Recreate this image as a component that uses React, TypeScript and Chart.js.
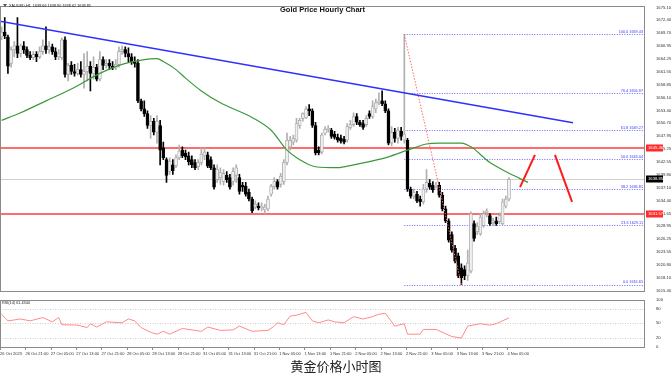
import React, { useEffect, useRef } from 'react';
import { Chart, registerables } from 'chart.js';
Chart.register(...registerables);

// ---------- data ----------
const TICK_LABELS = [
  '26 Oct 2023', '26 Oct 21:00', '27 Oct 05:00', '27 Oct 13:00', '27 Oct 21:00',
  '28 Oct 05:00', '28 Oct 13:00', '28 Oct 21:00', '31 Oct 05:00', '31 Oct 13:00',
  '31 Oct 21:00', '1 Nov 05:00', '1 Nov 13:00', '1 Nov 21:00', '2 Nov 05:00',
  '2 Nov 13:00', '2 Nov 21:00', '3 Nov 05:00', '3 Nov 13:00', '3 Nov 21:00', '4 Nov 05:00',
];
const BARS_PER_TICK = 8;

const OPEN = [
  1668.9, 1669.9, 1668.9, 1663.3, 1666.2, 1667.0, 1665.4, 1667.0, 1666.2, 1665.0,
  1664.5, 1665.2, 1664.7, 1665.8, 1667.0, 1666.2, 1666.8, 1665.8, 1664.7, 1664.5,
  1668.3, 1661.0, 1662.9, 1661.6, 1661.2, 1662.0, 1661.0, 1661.6, 1662.7, 1661.2,
  1662.5, 1660.0, 1664.1, 1662.9, 1663.3, 1662.7, 1662.3, 1663.1, 1665.8, 1666.2,
  1665.4, 1664.7, 1663.7, 1663.3, 1655.4, 1653.7, 1652.7, 1650.2, 1651.1, 1648.8,
  1650.2, 1645.5, 1643.0, 1640.5, 1641.9, 1641.7, 1643.4, 1645.0, 1644.4, 1643.8,
  1643.0, 1642.4, 1641.5, 1642.4, 1643.8, 1644.0, 1643.0, 1641.3, 1638.8, 1639.2,
  1638.4, 1639.7, 1639.2, 1638.4, 1639.7, 1639.2, 1637.6, 1637.4, 1636.1, 1634.7,
  1633.0, 1633.2, 1632.8, 1632.4, 1632.6, 1635.7, 1637.4, 1638.4, 1637.8, 1638.4,
  1642.4, 1645.7, 1646.7, 1647.1, 1650.2, 1651.7, 1651.9, 1653.7, 1653.3, 1650.2,
  1645.0, 1644.6, 1648.6, 1649.4, 1649.2, 1648.4, 1647.7, 1647.5, 1647.3, 1647.1,
  1649.8, 1650.4, 1652.1, 1650.9, 1650.6, 1650.4, 1652.7, 1652.1, 1653.7, 1655.0,
  1655.4, 1654.8, 1653.3, 1646.5, 1648.8, 1647.5, 1649.0, 1647.1, 1647.1, 1636.8,
  1635.3, 1635.7, 1634.7, 1634.1, 1636.8, 1638.0, 1637.6, 1637.4, 1637.6, 1635.5,
  1632.6, 1630.1, 1627.2, 1624.3, 1622.7, 1620.2, 1619.8, 1618.5, 1619.5, 1629.5,
  1627.8, 1627.4, 1629.1, 1631.8, 1631.2, 1629.7, 1630.1, 1629.9, 1629.5, 1633.2,
  1634.7,
];
const HIGH = [
  1671.0, 1673.0, 1669.3, 1666.8, 1667.9, 1673.0, 1667.4, 1667.9, 1666.8, 1665.8,
  1665.8, 1665.8, 1666.8, 1668.3, 1671.0, 1667.9, 1667.4, 1666.6, 1666.2, 1668.7,
  1668.9, 1663.3, 1663.7, 1663.1, 1663.3, 1663.7, 1665.4, 1665.8, 1663.7, 1664.7,
  1663.1, 1665.8, 1664.7, 1664.1, 1664.1, 1663.7, 1664.1, 1666.8, 1667.0, 1666.8,
  1666.6, 1665.4, 1664.7, 1664.1, 1655.8, 1655.4, 1653.3, 1652.3, 1651.7, 1652.3,
  1651.3, 1646.7, 1643.4, 1643.4, 1643.0, 1644.0, 1646.1, 1645.7, 1645.0, 1644.6,
  1643.8, 1643.0, 1643.0, 1645.5, 1645.5, 1644.6, 1643.6, 1641.9, 1641.9, 1641.3,
  1640.9, 1640.5, 1639.9, 1641.3, 1641.9, 1639.9, 1638.2, 1638.2, 1636.8, 1635.1,
  1634.3, 1633.9, 1633.9, 1633.6, 1635.3, 1637.8, 1639.2, 1638.8, 1640.1, 1643.0,
  1648.6, 1647.9, 1648.2, 1651.7, 1651.7, 1652.9, 1654.2, 1654.6, 1653.7, 1650.9,
  1645.7, 1648.6, 1650.0, 1650.2, 1649.6, 1649.0, 1648.4, 1648.2, 1647.9, 1650.6,
  1651.3, 1652.9, 1652.7, 1651.3, 1651.3, 1652.3, 1653.3, 1655.4, 1655.8, 1657.1,
  1657.5, 1655.4, 1653.7, 1650.0, 1649.6, 1649.8, 1649.8, 1669.43, 1647.5, 1637.2,
  1636.8, 1636.3, 1635.3, 1637.8, 1640.9, 1638.8, 1638.4, 1638.2, 1638.2, 1636.1,
  1633.2, 1630.5, 1627.8, 1624.9, 1623.3, 1621.0, 1620.6, 1623.9, 1632.0, 1630.1,
  1629.7, 1631.6, 1632.2, 1632.6, 1631.6, 1630.7, 1630.9, 1631.8, 1634.7, 1635.3,
  1639.2,
];
const LOW = [
  1668.3, 1668.5, 1661.2, 1662.5, 1664.7, 1664.5, 1664.7, 1665.4, 1664.5, 1664.1,
  1664.1, 1663.7, 1664.3, 1665.2, 1665.4, 1665.4, 1665.2, 1664.1, 1664.1, 1664.1,
  1660.4, 1659.6, 1661.0, 1660.6, 1660.8, 1660.4, 1658.1, 1659.6, 1657.5, 1660.0,
  1659.6, 1659.6, 1662.0, 1662.3, 1662.0, 1662.0, 1662.0, 1662.5, 1665.2, 1664.7,
  1663.7, 1663.1, 1662.5, 1655.0, 1653.3, 1652.1, 1649.6, 1647.5, 1648.2, 1646.5,
  1641.9, 1643.0, 1638.2, 1639.9, 1639.9, 1641.3, 1643.0, 1643.4, 1643.0, 1641.9,
  1641.3, 1640.9, 1640.9, 1641.9, 1643.0, 1641.3, 1640.9, 1636.8, 1638.2, 1637.8,
  1637.6, 1638.2, 1636.8, 1637.6, 1638.2, 1635.7, 1636.3, 1635.3, 1634.3, 1631.8,
  1632.6, 1632.4, 1632.2, 1631.6, 1632.2, 1635.3, 1636.8, 1636.8, 1637.2, 1637.8,
  1641.9, 1645.0, 1646.1, 1646.7, 1649.6, 1651.1, 1651.7, 1652.3, 1649.8, 1644.0,
  1644.0, 1644.2, 1648.2, 1648.8, 1647.5, 1647.3, 1646.7, 1646.5, 1646.3, 1646.7,
  1649.4, 1650.0, 1650.4, 1650.0, 1649.4, 1650.0, 1651.7, 1651.7, 1652.9, 1654.6,
  1654.4, 1652.9, 1646.1, 1645.9, 1646.7, 1646.5, 1647.1, 1646.5, 1636.3, 1634.9,
  1634.7, 1633.9, 1633.2, 1633.6, 1636.1, 1636.8, 1636.1, 1637.0, 1635.1, 1632.2,
  1629.7, 1625.6, 1623.5, 1621.2, 1618.1, 1616.65, 1617.7, 1617.5, 1619.1, 1625.8,
  1627.2, 1627.0, 1628.7, 1630.9, 1629.1, 1629.1, 1629.1, 1629.5, 1629.3, 1632.8,
  1634.3,
];
const CLOSE = [
  1669.9, 1669.1, 1662.7, 1666.2, 1667.0, 1665.4, 1667.0, 1666.2, 1665.0, 1664.5,
  1665.2, 1664.7, 1665.8, 1667.0, 1666.2, 1666.8, 1665.8, 1664.7, 1665.4, 1668.3,
  1661.0, 1662.9, 1661.6, 1661.2, 1662.0, 1661.0, 1661.6, 1662.7, 1661.2, 1662.5,
  1660.0, 1664.1, 1662.9, 1663.3, 1662.7, 1662.3, 1663.1, 1665.8, 1666.2, 1665.4,
  1664.7, 1663.7, 1663.3, 1655.4, 1653.7, 1652.7, 1650.2, 1651.1, 1648.8, 1651.1,
  1645.0, 1643.4, 1639.7, 1642.6, 1640.7, 1643.4, 1644.8, 1643.8, 1643.6, 1642.6,
  1641.9, 1641.3, 1642.4, 1644.2, 1644.6, 1641.7, 1641.3, 1637.2, 1640.9, 1640.3,
  1640.1, 1638.8, 1637.2, 1640.5, 1641.3, 1636.3, 1637.2, 1635.7, 1634.7, 1632.2,
  1633.6, 1632.8, 1633.2, 1633.0, 1634.7, 1637.4, 1638.4, 1637.2, 1639.5, 1642.4,
  1647.1, 1647.1, 1647.5, 1650.6, 1651.3, 1652.7, 1653.7, 1653.3, 1650.2, 1644.4,
  1644.4, 1648.2, 1649.4, 1649.6, 1647.9, 1647.7, 1647.1, 1646.9, 1646.7, 1650.0,
  1650.4, 1652.1, 1650.9, 1650.4, 1649.8, 1651.7, 1652.1, 1654.2, 1655.0, 1655.4,
  1654.8, 1653.3, 1646.5, 1648.8, 1647.5, 1649.2, 1647.9, 1648.4, 1636.8, 1635.3,
  1636.1, 1634.3, 1634.1, 1636.8, 1638.2, 1637.2, 1636.6, 1637.6, 1635.5, 1632.6,
  1630.1, 1626.0, 1623.9, 1621.6, 1618.5, 1618.1, 1618.5, 1621.2, 1631.6, 1626.4,
  1628.9, 1630.9, 1631.6, 1632.2, 1629.5, 1630.1, 1629.5, 1631.2, 1634.1, 1634.7,
  1638.85,
];

const MA_IDX = [0, 6, 14, 22, 31, 37, 45, 49, 51, 55, 58, 63, 69, 79, 85, 90, 94, 99, 106, 111, 116, 122, 128, 134, 138, 145, 148, 154, 159, 166];
const MA_VAL = [1651.3, 1652.9, 1655.4, 1657.9, 1661.2, 1662.9, 1664.1, 1664.3, 1663.7, 1662.0, 1660.2, 1657.5, 1655.0, 1651.9, 1649.2, 1645.0, 1643.0, 1641.5, 1641.3, 1641.9, 1642.6, 1643.6, 1645.0, 1646.3, 1646.5, 1646.5, 1645.7, 1642.4, 1640.5, 1638.2];

const RSI_IDX = [0, 2, 6, 9, 13, 16, 18, 19, 24, 27, 28, 30, 33, 38, 40, 42, 44, 47, 49, 51, 53, 55, 57, 63, 65, 69, 73, 75, 79, 84, 86, 87, 89, 91, 93, 96, 98, 100, 103, 105, 108, 111, 114, 117, 119, 121, 124, 127, 128, 132, 133, 137, 142, 145, 147, 151, 154, 156, 160];
const RSI_VAL = [69, 55, 59, 55, 62, 53, 62, 47, 46, 41, 49, 42, 53, 51, 59, 55, 41, 31, 27, 33, 27, 33, 39, 33, 42, 35, 36, 44, 33, 35, 44, 51, 47, 65, 67, 73, 55, 51, 57, 53, 51, 64, 59, 64, 69, 71, 44, 49, 27, 27, 37, 37, 22, 19, 44, 49, 46, 49, 61.4];
const RSI_LAST = '61.4344';

const TREND_IDX = [-0.5, 180.2];
const TREND_VAL = [1672.2, 1650.8];
const ARROW_UP_IDX = [163.5, 168.2];
const ARROW_UP_VAL = [1637.2, 1644.0];
const ARROW_DOWN_IDX = [174.5, 179.9];
const ARROW_DOWN_VAL = [1644.0, 1634.1];

const SR_LEVELS = [1645.46, 1631.57];
const CURRENT_PRICE = 1638.85;

const FIB_RATIOS = ['100.0', '76.4', '61.8', '50.0', '38.2', '23.6', '0.0'];
const FIB_PRICES = [1669.43, 1656.97, 1649.27, 1643.04, 1636.81, 1629.11, 1616.65];
const FIB_HIGH_IDX = 127;
const FIB_LOW_IDX = 145;

const Y_TICKS = [1615.40, 1618.10, 1620.80, 1623.55, 1626.25, 1628.95, 1631.65, 1634.40, 1637.10, 1639.80, 1642.55, 1645.25, 1647.95, 1650.70, 1653.40, 1656.10, 1658.85, 1661.55, 1664.25, 1666.95, 1669.70, 1672.40, 1675.10];
const Y_MIN = 1615.40;
const Y_MAX = 1675.52;
const RSI_TICKS = [100, 80, 50, 20, 0];
const RSI_LEVELS = [80, 50, 20];

const X_MIN = -0.5;
const X_MAX = 202.9;

const HEADER = 'XAUUSD,H1  1638.66 1638.90 1638.62 1638.85';
const TITLE = 'Gold Price Hourly Chart';
const CAPTION = '黄金价格小时图';

// ---------- helpers ----------
const BULL_FILL = '#f0f0f0';
const BULL_EDGE = '#a6a6a6';
const BEAR = '#000000';
const SMALL_FONT = '"Liberation Sans"';

function hLine(ctx: CanvasRenderingContext2D, x1: number, x2: number, y: number, color: string, w: number, dash: number[] = []) {
  ctx.save();
  ctx.strokeStyle = color;
  ctx.lineWidth = w;
  ctx.setLineDash(dash);
  ctx.beginPath();
  const yy = w % 2 === 1 ? Math.round(y) + 0.5 : Math.round(y);
  ctx.moveTo(x1, yy);
  ctx.lineTo(x2, yy);
  ctx.stroke();
  ctx.restore();
}

function frame(ctx: CanvasRenderingContext2D, a: any) {
  ctx.save();
  ctx.strokeStyle = '#8a8a8a';
  ctx.lineWidth = 1;
  ctx.strokeRect(Math.round(a.left) + 0.5, Math.round(a.top) + 0.5, Math.round(a.right - a.left) - 1, Math.round(a.bottom - a.top));
  ctx.restore();
}

function priceBox(ctx: CanvasRenderingContext2D, x: number, y: number, text: string, bg: string) {
  ctx.save();
  ctx.fillStyle = bg;
  ctx.fillRect(x, Math.round(y) - 3.5, 17, 7);
  ctx.fillStyle = '#ffffff';
  ctx.font = `4.2px ${SMALL_FONT}`;
  ctx.textAlign = 'left';
  ctx.textBaseline = 'middle';
  ctx.fillText(text, x + 2, Math.round(y));
  ctx.restore();
}

const mainOverlay = {
  id: 'mainOverlay',
  beforeDatasetsDraw(chart: any) {
    const { ctx, chartArea: a, scales } = chart;
    const x = scales.x, y = scales.y;
    ctx.save();
    ctx.beginPath();
    ctx.rect(a.left, a.top, a.right - a.left, a.bottom - a.top);
    ctx.clip();
    hLine(ctx, a.left, a.right, y.getPixelForValue(CURRENT_PRICE), '#cfcfcf', 1);
    SR_LEVELS.forEach((v) => hLine(ctx, a.left, a.right, y.getPixelForValue(v), '#ff3b3b', 1.5));
    const fx = x.getPixelForValue(FIB_HIGH_IDX);
    FIB_PRICES.forEach((p) => hLine(ctx, fx, a.right, y.getPixelForValue(p), '#6b6bff', 1, [1, 1.5]));
    ctx.restore();
  },
  afterDraw(chart: any) {
    const { ctx, chartArea: a, scales } = chart;
    const y = scales.y;
    frame(ctx, a);
    // fib labels
    ctx.save();
    ctx.font = `3.8px ${SMALL_FONT}`;
    ctx.fillStyle = '#3a3aff';
    ctx.textAlign = 'right';
    ctx.textBaseline = 'bottom';
    FIB_PRICES.forEach((p, k) => {
      ctx.fillText(`${FIB_RATIOS[k]} ${p.toFixed(2)}`, a.right - 2, y.getPixelForValue(p) - 0.5);
    });
    ctx.restore();
    // title
    ctx.save();
    ctx.font = 'bold 7.5px "Liberation Sans"';
    ctx.fillStyle = '#111';
    ctx.textAlign = 'center';
    ctx.textBaseline = 'middle';
    ctx.fillText(TITLE, (a.left + a.right) / 2, 9.5);
    // header
    ctx.font = `3.8px ${SMALL_FONT}`;
    ctx.fillStyle = '#222';
    ctx.textAlign = 'left';
    ctx.fillText(HEADER, 9, 5.5);
    ctx.fillStyle = '#555';
    ctx.beginPath();
    ctx.moveTo(3, 4); ctx.lineTo(7, 4); ctx.lineTo(5, 7); ctx.closePath();
    ctx.fill();
    ctx.restore();
    // price boxes
    const bx = a.right + 1;
    SR_LEVELS.forEach((v) => priceBox(ctx, bx, y.getPixelForValue(v), v.toFixed(2), '#ff2a2a'));
    priceBox(ctx, bx, y.getPixelForValue(CURRENT_PRICE), CURRENT_PRICE.toFixed(2), '#000000');
  },
};

const rsiOverlay = {
  id: 'rsiOverlay',
  beforeDatasetsDraw(chart: any) {
    const { ctx, chartArea: a, scales } = chart;
    RSI_LEVELS.forEach((v) => hLine(ctx, a.left, a.right, scales.y.getPixelForValue(v), '#cccccc', 1, [1, 1.5]));
  },
  afterDraw(chart: any) {
    const { ctx, chartArea: a, scales } = chart;
    frame(ctx, a);
    ctx.save();
    ctx.font = `3.8px ${SMALL_FONT}`;
    ctx.fillStyle = '#222';
    ctx.textAlign = 'left';
    ctx.textBaseline = 'middle';
    ctx.fillText(`RSI(14) ${RSI_LAST}`, 2, a.top + 3);
    // time labels
    ctx.font = `4px ${SMALL_FONT}`;
    ctx.fillStyle = '#333';
    ctx.textBaseline = 'middle';
    TICK_LABELS.forEach((t, k) => {
      const px = scales.x.getPixelForValue(k * BARS_PER_TICK);
      ctx.fillText(t, px - 1.5, a.bottom + 7);
      ctx.fillStyle = '#888';
      ctx.fillRect(Math.round(px - 1.6), a.bottom + 1, 1, 2);
      ctx.fillStyle = '#333';
    });
    ctx.restore();
  },
};

export default function App() {
  const mainRef = useRef<HTMLCanvasElement>(null);
  const rsiRef = useRef<HTMLCanvasElement>(null);

  useEffect(() => {
    const bodyFill = OPEN.map((o, i) => (CLOSE[i] >= o ? BULL_FILL : BEAR));
    const bodyEdge = OPEN.map((o, i) => (CLOSE[i] >= o ? BULL_EDGE : BEAR));
    const wickCol = OPEN.map((o, i) => (CLOSE[i] >= o ? '#b0b0b0' : BEAR));
    const pts = (xs: number[], ys: number[]) => xs.map((x, k) => ({ x, y: ys[k] }));

    const main = new Chart(mainRef.current!, {
      type: 'bar',
      data: {
        datasets: [
          {
            type: 'line', data: pts(ARROW_UP_IDX, ARROW_UP_VAL), borderColor: '#ff1a1a', borderWidth: 2,
            pointRadius: 0, order: 1,
          } as any,
          {
            type: 'line', data: pts(ARROW_DOWN_IDX, ARROW_DOWN_VAL), borderColor: '#ff1a1a', borderWidth: 2,
            pointRadius: 0, order: 1,
          } as any,
          {
            type: 'line', data: pts(TREND_IDX, TREND_VAL), borderColor: '#2f2fff', borderWidth: 1.5,
            pointRadius: 0, order: 2,
          } as any,
          {
            type: 'line', data: pts(MA_IDX, MA_VAL), borderColor: '#3a9a3a', borderWidth: 1.2,
            pointRadius: 0, cubicInterpolationMode: 'monotone', order: 3,
          } as any,
          {
            type: 'line', data: pts([FIB_HIGH_IDX, FIB_LOW_IDX], [FIB_PRICES[0], FIB_PRICES[FIB_PRICES.length - 1]]),
            borderColor: '#ff6b6b', borderWidth: 1, borderDash: [1.5, 1.5], pointRadius: 0, order: 4,
          } as any,
          {
            type: 'bar', data: OPEN.map((o, i) => ({ x: i, y: [o, CLOSE[i]] })),
            backgroundColor: bodyFill, borderColor: bodyEdge, borderWidth: 0.8, borderSkipped: false,
            barThickness: 3, grouped: false, order: 9,
          } as any,
          {
            type: 'bar', data: LOW.map((l, i) => ({ x: i, y: [l, HIGH[i]] })),
            backgroundColor: wickCol, barThickness: 1, grouped: false, order: 10,
          } as any,
        ],
      },
      options: {
        responsive: false,
        animation: false,
        events: [],
        layout: { padding: { top: 3, bottom: 3, left: 0, right: 0 } },
        plugins: { legend: { display: false }, tooltip: { enabled: false } },
        scales: {
          x: { type: 'linear', min: X_MIN, max: X_MAX, offset: false, display: false },
          y: {
            position: 'right', min: Y_MIN, max: Y_MAX,
            afterBuildTicks: (s: any) => { s.ticks = Y_TICKS.map((v) => ({ value: v })); },
            afterFit: (s: any) => { s.width = 27; },
            grid: { display: false },
            border: { display: false },
            ticks: {
              padding: 3, color: '#333', font: { size: 4.2, family: 'Liberation Sans' },
              callback: (v: any) => Number(v).toFixed(2),
            },
          },
        },
      },
      plugins: [mainOverlay],
    } as any);

    const rsi = new Chart(rsiRef.current!, {
      type: 'line',
      data: {
        datasets: [
          { data: pts(RSI_IDX, RSI_VAL), borderColor: '#ff8a8a', borderWidth: 1, pointRadius: 0, tension: 0 },
        ],
      },
      options: {
        responsive: false,
        animation: false,
        events: [],
        layout: { padding: { top: 3, bottom: 0, left: 0, right: 0 } },
        plugins: { legend: { display: false }, tooltip: { enabled: false } },
        scales: {
          x: {
            type: 'linear', min: X_MIN, max: X_MAX, offset: false,
            afterFit: (s: any) => { s.height = 11; },
            grid: { display: false },
            border: { display: false },
            ticks: { display: false },
          },
          y: {
            position: 'right', min: 0, max: 100,
            afterBuildTicks: (s: any) => { s.ticks = RSI_TICKS.map((v) => ({ value: v })); },
            afterFit: (s: any) => { s.width = 27; },
            grid: { display: false },
            border: { display: false },
            ticks: { padding: 3, color: '#333', font: { size: 4.2, family: 'Liberation Sans' } },
          },
        },
      },
      plugins: [rsiOverlay],
    } as any);

    return () => { main.destroy(); rsi.destroy(); };
  }, []);

  return (
    <div style={{ position: 'fixed', left: 0, top: 0, width: 672, height: 378, background: '#fff', overflow: 'hidden' }}>
      <canvas ref={mainRef} width={672} height={296} style={{ position: 'absolute', left: 0, top: 0, width: 672, height: 296 }} />
      <canvas ref={rsiRef} width={672} height={64} style={{ position: 'absolute', left: 0, top: 294, width: 672, height: 64 }} />
      <div style={{
        position: 'absolute', left: 0, top: 357, width: 672, textAlign: 'center',
        fontFamily: '"Noto Sans CJK SC", sans-serif', fontSize: 13, lineHeight: '18px', color: '#222',
      }}>{CAPTION}</div>
    </div>
  );
}
